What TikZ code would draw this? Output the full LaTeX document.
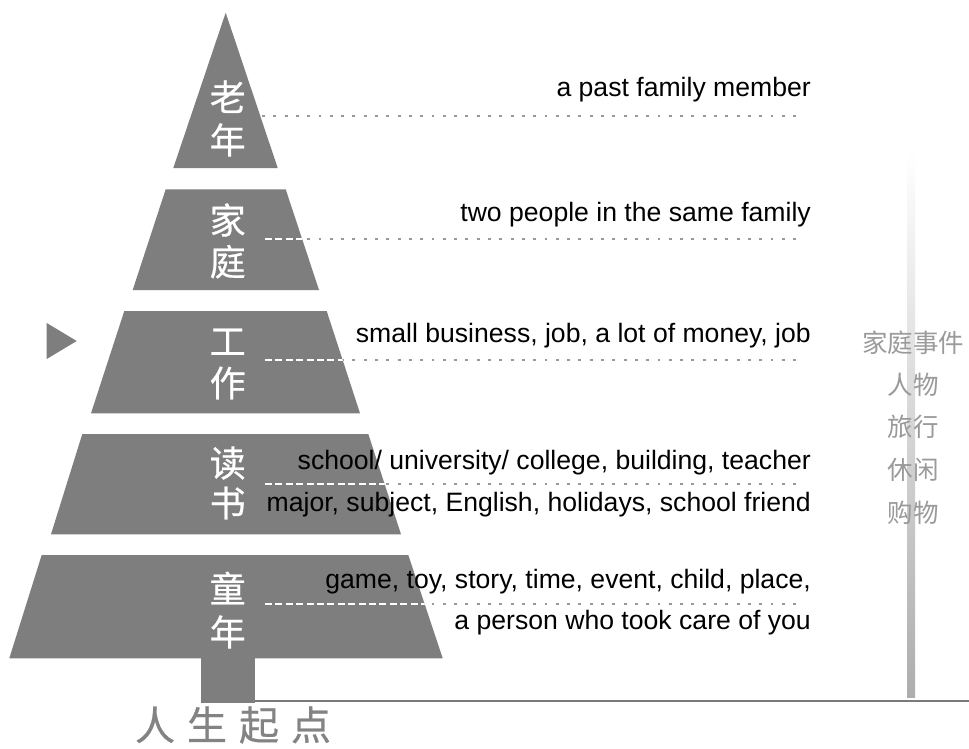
\documentclass[tikz,border=0pt]{standalone}
\usepackage{fontspec}
\setmainfont{Liberation Sans}
\newfontfamily\cjk{Noto Sans CJK SC}
\newfontfamily\cjkb[FakeBold=0.6]{Noto Sans CJK SC}
\definecolor{tiergray}{HTML}{7E7E7E}
\definecolor{dotgray}{HTML}{999999}
\definecolor{sidegray}{HTML}{9A9A9A}
\definecolor{linegray}{HTML}{7A7A7A}
\definecolor{bargray}{HTML}{ADADAD}
\begin{document}
\begin{tikzpicture}[x=1pt,y=-1pt,
  tier/.style={fill=tiergray},
  dotline/.style={draw=dotgray,line width=2.9pt,dash pattern=on 2.9pt off 8.4pt},
  dashline/.style={draw=white,line width=1.6pt,dash pattern=on 7pt off 3.4pt},
  lbl/.style={anchor=base east,inner sep=0pt,font=\fontsize{26.6}{30}\selectfont},
  zi/.style={text=white,inner sep=0pt,font=\cjkb\fontsize{36}{36}\selectfont},
  side/.style={text=sidegray,inner sep=0pt,font=\cjk\fontsize{25.5}{26}\selectfont},
]
\useasboundingbox[fill=white] (0,0) rectangle (969,749);

% vertical bar on the right
\shade[top color=white,bottom color=bargray] (907,150) rectangle (915,697);

% ground line
\coordinate (g1) at (255,701);
\coordinate (g2) at (969,701);
\draw[linegray,line width=1.8pt] (g1) -- (g2);

% dotted lines (drawn first, tiers cover their inner parts)
\foreach \y/\n in {116/a,239/b,360/c,484/d,604/e}{
  \coordinate (s\n) at (262,\y);
  \coordinate (t\n) at (800,\y);
  \draw[dotline] (s\n) -- (t\n);
}

% tiers
\fill[tier] (225.7,12.7) -- (277.7,168) -- (173.3,168) -- cycle;
\fill[tier] (165.7,189.3) -- (285.7,189.3) -- (319,290) -- (132.7,290) -- cycle;
\fill[tier] (124.3,311) -- (326.7,311) -- (360,413.3) -- (91,413.3) -- cycle;
\fill[tier] (82.3,434) -- (368.3,434) -- (401,534.3) -- (51,534.3) -- cycle;
\fill[tier] (41.7,555) -- (408.3,555) -- (442.7,658.3) -- (9.3,658.3) -- cycle;
\fill[tier] (201.3,657) rectangle (255,703);

% marker
\fill[tier] (46.7,323) -- (76.7,341) -- (46.7,359) -- cycle;

% white dashed parts inside tiers
\begin{scope}
  \clip (165.7,189.3) -- (285.7,189.3) -- (319,290) -- (132.7,290) -- cycle;
  \draw[dashline] (265,239) -- (tb);
\end{scope}
\begin{scope}
  \clip (124.3,311) -- (326.7,311) -- (360,413.3) -- (91,413.3) -- cycle;
  \draw[dashline] (265,360) -- (tc);
\end{scope}
\begin{scope}
  \clip (82.3,434) -- (368.3,434) -- (401,534.3) -- (51,534.3) -- cycle;
  \draw[dashline] (265,484) -- (td);
\end{scope}
\begin{scope}
  \clip (41.7,555) -- (408.3,555) -- (442.7,658.3) -- (9.3,658.3) -- cycle;
  \draw[dashline] (265,604) -- (te);
\end{scope}

% characters in the pyramid
\node[zi] (c1) at (227.7,96.7) {老};
\node[zi] (c2) at (227.7,140) {年};
\node[zi] (c3) at (227.7,220) {家};
\node[zi] (c4) at (227.7,261.7) {庭};
\node[zi] (c5) at (227.7,341.7) {工};
\node[zi] (c6) at (227.7,383) {作};
\node[zi] (c7) at (227.7,463) {读};
\node[zi] (c8) at (227.7,503) {书};
\node[zi] (c9) at (227.7,588) {童};
\node[zi] (c10) at (227.7,632) {年};

% English labels
\node[lbl] (l1) at (811,96.5) {a past family member};
\node[lbl] (l2) at (811,221.7) {two people in the same family};
\node[lbl] (l3) at (811,342.3) {small business, job, a lot of money, job};
\node[lbl] (l4) at (811,469.3) {school/ university/ college, building, teacher};
\node[lbl] (l5) at (811,511.7) {major, subject, English, holidays, school friend};
\node[lbl] (l6) at (811,588.3) {game, toy, story, time, event, child, place,};
\node[lbl] (l7) at (811,629.3) {a person who took care of you};

% right column
\node[side] (r1) at (913,343) {家庭事件};
\node[side] (r2) at (913,385) {人物};
\node[side] (r3) at (913,427) {旅行};
\node[side] (r4) at (913,470) {休闲};
\node[side] (r5) at (913,512.7) {购物};

% bottom title
\node[inner sep=0pt,text=sidegray!85!black,font=\cjkb\fontsize{40}{40}\selectfont] (base) at (233,725)
  {人\hspace{12pt}生\hspace{12pt}起\hspace{12pt}点};
\end{tikzpicture}
\end{document}
